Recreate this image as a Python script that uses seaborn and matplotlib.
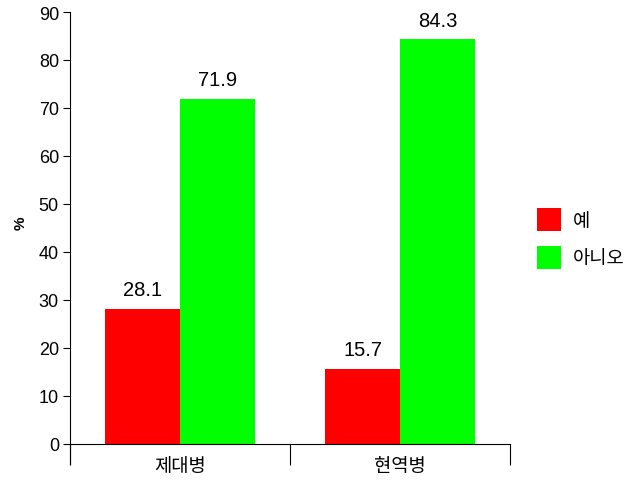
import matplotlib
matplotlib.use("Agg")
import matplotlib.pyplot as plt
import seaborn as sns
import pandas as pd

# data
groups = ["제대병", "현역병"]
answers = ["예", "아니오"]
yes_pct = [28.1, 15.7]
no_pct = [71.9, 84.3]
colors = ["#ff0000", "#00ff00"]

df = pd.DataFrame({
    "group": groups * 2,
    "answer": [answers[0]] * 2 + [answers[1]] * 2,
    "pct": yes_pct + no_pct,
})

sns.set_theme(style="white")
plt.rcParams["font.family"] = ["Liberation Sans", "Noto Sans CJK KR"]
plt.rcParams.update({"text.color": "black", "axes.labelcolor": "black",
                     "xtick.color": "black", "ytick.color": "black"})

fig = plt.figure(figsize=(6.32, 4.81), dpi=100)
ax = fig.add_axes([70 / 632, 1 - 465 / 481, 440 / 632, 452 / 481])

sns.barplot(data=df, x="group", y="pct", hue="answer", order=groups,
            hue_order=answers, palette=colors, width=0.68, saturation=1,
            linewidth=0, ax=ax, legend=True)

for cont in ax.containers:
    ax.bar_label(cont, fmt="%.1f", padding=7, fontsize=14.5)

ax.set_xlim(-0.5, 1.5)
ax.set_ylim(-4.2, 90)
ax.set_yticks(range(0, 91, 10))
ax.tick_params(axis="y", length=5, width=0.8, labelsize=13, pad=3, left=True)
ax.set_ylabel("%", fontsize=11, fontweight="bold")
ax.yaxis.set_label_coords(-0.097, 0.535)

# category boundaries as long ticks, names as minor ticks
ax.set_xticks([-0.5, 0.5, 1.5])
ax.set_xticklabels([])
ax.set_xticks([0, 1], minor=True)
ax.set_xticklabels(groups, minor=True)
ax.tick_params(axis="x", which="major", length=15, width=0.8, bottom=True)
ax.tick_params(axis="x", which="minor", length=0, labelsize=13.5, pad=10)
ax.set_xlabel("")

for s in ["top", "right"]:
    ax.spines[s].set_visible(False)
ax.spines["bottom"].set_position(("data", 0))
for s in ["left", "bottom"]:
    ax.spines[s].set_color("black")
    ax.spines[s].set_linewidth(0.8)

ax.legend(loc="upper left", bbox_to_anchor=(537 / 632, 1 - 209 / 481),
          bbox_transform=fig.transFigure, frameon=False, fontsize=13.5,
          handlelength=1.3, handleheight=1.5, labelspacing=0.8,
          handletextpad=0.6, borderpad=0, borderaxespad=0)

fig.savefig("out.png", dpi=100)
